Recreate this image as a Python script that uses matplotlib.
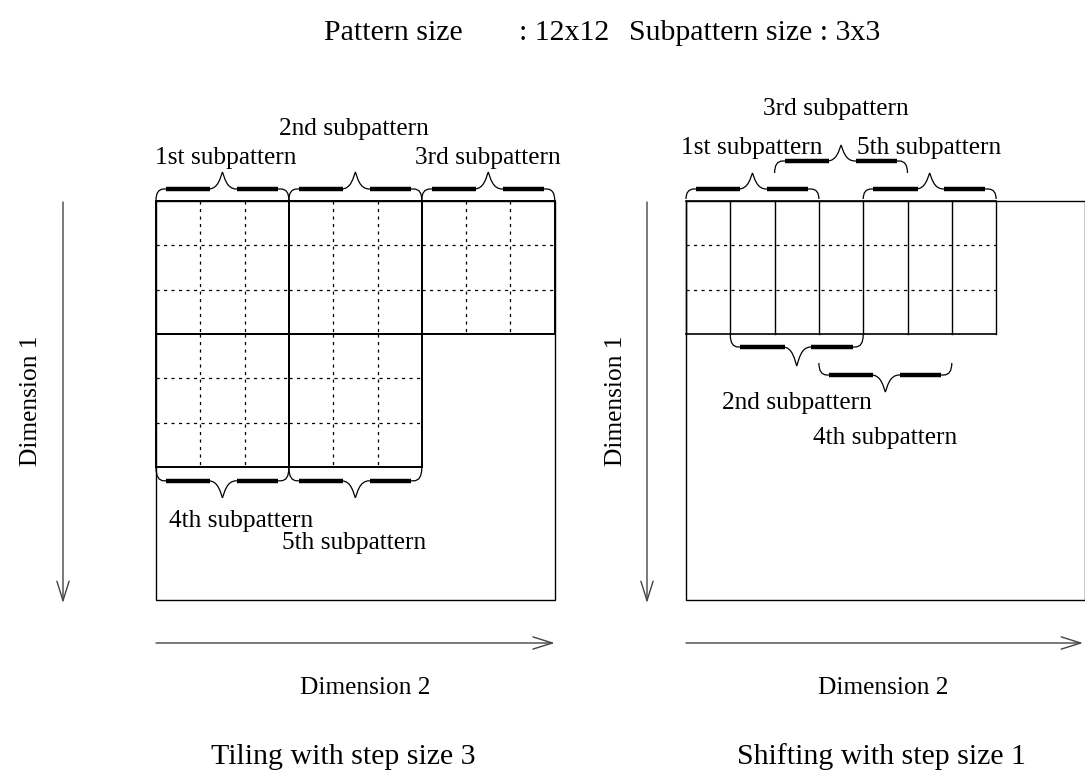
import numpy as np
import matplotlib
matplotlib.use("Agg")
import matplotlib.pyplot as plt
from matplotlib.path import Path
from matplotlib.patches import PathPatch, Rectangle

plt.rcParams['font.family'] = ['Liberation Serif', 'DejaVu Serif']

# diagram content
sub = 3            # subpattern size in cells
board = 9          # cells drawn per side of the pattern square
tile_labels = ["1st subpattern", "2nd subpattern", "3rd subpattern", "4th subpattern", "5th subpattern"]
tile_rows = [0, 0, 0, 3, 3]
tile_cols = [0, 3, 6, 0, 3]
shift_labels = ["1st subpattern", "2nd subpattern", "3rd subpattern", "4th subpattern", "5th subpattern"]
shift_cols = [0, 1, 2, 3, 4]
step_shift = 1

# layout (pixels)
W, H = 1085, 779
cell = 44.3
left0 = (156, 201)
right0 = (686, 201)
ink = "black"
grey = "#444444"
small = 18.3
big = 21.5

fig = plt.figure(figsize=(W / 100, H / 100), dpi=100)
ax = fig.add_axes([0, 0, 1, 1])
ax.set_xlim(0, W)
ax.set_ylim(H, 0)
ax.axis("off")


def brace(x0, x1, yb, h, t, up=True):
    s = -1 if up else 1
    xm = (x0 + x1) / 2
    r = 8
    c = 14
    yf = yb + s * h
    verts = [(x0, yb), (x0, yf), (x0 + r, yf), (xm - c, yf),
             (xm - 4, yf), (xm - 2, yf + s * t * 0.7), (xm, yf + s * t),
             (xm + 2, yf + s * t * 0.7), (xm + 4, yf), (xm + c, yf),
             (x1 - r, yf),
             (x1, yf), (x1, yb)]
    codes = [Path.MOVETO, Path.CURVE3, Path.CURVE3, Path.LINETO,
             Path.CURVE4, Path.CURVE4, Path.CURVE4,
             Path.CURVE4, Path.CURVE4, Path.CURVE4,
             Path.LINETO,
             Path.CURVE3, Path.CURVE3]
    ax.add_patch(PathPatch(Path(verts, codes), fill=False, lw=0.9, ec=ink))
    w = x1 - x0
    for a, b in [(0.075, 0.41), (0.61, 0.92)]:
        ax.plot([x0 + a * w, x0 + b * w], [yf, yf], color=ink, lw=3.2,
                solid_capstyle="butt")


def dotted(xs, ys):
    ax.plot(xs, ys, color=ink, lw=0.9, dashes=(2.5, 3.5))


# ---------- left panel: tiling ----------
lx, ly = left0
ax.add_patch(Rectangle((lx, ly), board * cell, board * cell, fill=False, lw=1.0, ec=ink))
for r, c in zip(tile_rows, tile_cols):
    x, y = lx + c * cell, ly + r * cell
    for k in range(1, sub):
        dotted([x + k * cell] * 2, [y, y + sub * cell])
        dotted([x, x + sub * cell], [y + k * cell] * 2)
    ax.add_patch(Rectangle((x, y), sub * cell, sub * cell, fill=False, lw=1.4, ec=ink))
    if r == 0:
        brace(x, x + sub * cell, y - 1, 11, 17, up=True)
    else:
        brace(x, x + sub * cell, y + sub * cell + 1, 13, 17, up=False)

# label centre x, baseline y
tile_text = [(226, 164), (354, 135), (488, 164), (241, 527), (354, 549)]
for lab, (tx, ty) in zip(tile_labels, tile_text):
    ax.text(tx, ty, lab, ha="center", va="baseline", fontsize=small)

# ---------- right panel: shifting ----------
rx, ry = right0
ax.add_patch(Rectangle((rx, ry), board * cell, board * cell, fill=False, lw=1.0, ec=ink))
last = shift_cols[-1] + sub
for c in range(last + 1):
    ax.plot([rx + c * cell] * 2, [ry, ry + sub * cell], color=ink, lw=1.0)
for k in range(1, sub):
    dotted([rx, rx + last * cell], [ry + k * cell] * 2)
for k in (0, sub):
    ax.plot([rx, rx + last * cell], [ry + k * cell] * 2, color=ink, lw=1.2)

shift_brace = [(199, 10, 16, True), (335, 12, 19, False), (173, 12, 16, True),
               (363, 12, 17, False), (199, 10, 16, True)]
for c, (yb, h, t, up) in zip(shift_cols, shift_brace):
    x = rx + c * step_shift * cell
    brace(x, x + sub * cell, yb, h, t, up=up)

shift_text = [(752, 154), (797, 409), (836, 115), (885, 444), (929, 154)]
for lab, (tx, ty) in zip(shift_labels, shift_text):
    ax.text(tx, ty, lab, ha="center", va="baseline", fontsize=small)

# ---------- axes arrows and captions ----------
arrow = dict(arrowstyle="->,head_length=0.7,head_width=0.22", color=grey, lw=1.0,
             mutation_scale=20, shrinkA=0, shrinkB=0)
for vx in (63, 647):
    ax.annotate("", xy=(vx, 603), xytext=(vx, 202), arrowprops=arrow)
for hx0, hx1 in ((lx, lx + board * cell), (rx, W - 2)):
    ax.annotate("", xy=(hx1, 643), xytext=(hx0, 643), arrowprops=arrow)

ax.text(31, 401, "Dimension 1", rotation=90, ha="center", va="center", fontsize=small)
ax.text(616, 401, "Dimension 1", rotation=90, ha="center", va="center", fontsize=small)
ax.text(365, 694, "Dimension 2", ha="center", va="baseline", fontsize=small)
ax.text(883, 694, "Dimension 2", ha="center", va="baseline", fontsize=small)
ax.text(343, 764, "Tiling with step size 3", ha="center", va="baseline", fontsize=big)
ax.text(881, 764, "Shifting with step size 1", ha="center", va="baseline", fontsize=big)

ax.text(324, 40, "Pattern size", ha="left", va="baseline", fontsize=big)
ax.text(519, 40, ": 12x12", ha="left", va="baseline", fontsize=big)
ax.text(629, 40, "Subpattern size : 3x3", ha="left", va="baseline", fontsize=big)

fig.savefig("out.png", dpi=100)
